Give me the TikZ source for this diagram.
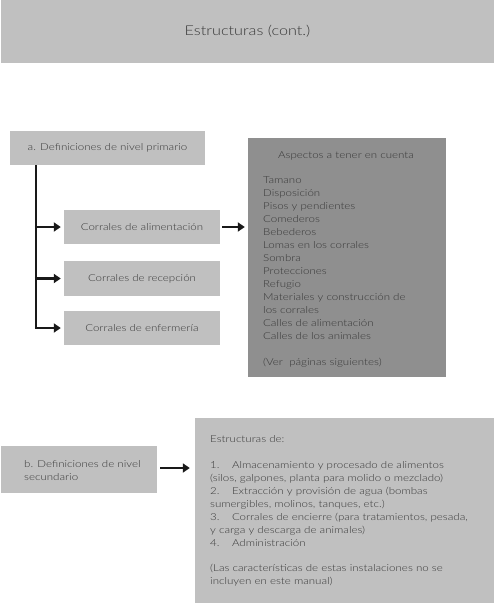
\documentclass[tikz,border=0pt]{standalone}
\usepackage{fontspec}
\IfFontExistsTF{Lato Light}{\setmainfont{Lato Light}[FakeStretch=1.2]}{\setmainfont{Lato}[FakeStretch=1.2]}
\usetikzlibrary{arrows.meta,calc}
\definecolor{boxgray}{HTML}{C0C0C0}
\definecolor{darkbox}{HTML}{8F8F8F}
\definecolor{txt}{HTML}{383838}
\begin{document}
\begin{tikzpicture}[x=1pt,y=-1pt,
  font=\fontsize{9.6}{13}\selectfont, text=txt,
  box/.style={fill=boxgray, draw=none, inner sep=0pt},
  dbox/.style={fill=darkbox, draw=none, inner sep=0pt},
  txtblock/.style={inner sep=0pt, align=left, anchor=north west},
  arr/.style={line width=2.4pt, draw=black!90, -{Triangle[length=7pt,width=9pt]}},
  trunkline/.style={line width=2pt, draw=black!90}]
\useasboundingbox (0,0) rectangle (496,607);
\fill[white] (0,0) rectangle (496,607);

% title banner
\node[box, minimum width=493pt, minimum height=63pt, font=\fontsize{13.5}{15}\selectfont] (title) at (247.5,31.5) {Estructuras (cont.)};

% level a
\node[box, minimum width=195pt, minimum height=34pt] (a) at (107.5,148) {a. Definiciones de nivel primario};
\node[box, minimum width=156pt, minimum height=34pt] (ali) at (142,227) {Corrales de alimentación};
\node[box, minimum width=156pt, minimum height=35pt] (rec) at (142,278.5) {Corrales de recepción};
\node[box, minimum width=156pt, minimum height=34pt] (enf) at (142,328) {Corrales de enfermería};

\node[dbox, minimum width=198pt, minimum height=239pt] (asp) at (347,257.5) {};
\node[inner sep=0pt] (asph) at (346,156) {Aspectos a tener en cuenta};
\node[txtblock] (asplist) at (263,177) {Tamano\\Disposición\\Pisos y pendientes\\Comederos\\Bebederos\\Lomas en los corrales\\Sombra\\Protecciones\\Refugio\\Materiales y construcción de\\los corrales\\Calles de alimentación\\Calles de los animales\\[13pt](Ver\ \ páginas siguientes)};

\coordinate (trunk) at ($(a.south west)+(26,0)$);
\draw[trunkline] (trunk) -- (trunk |- enf.west);
\draw[arr] ($(trunk |- ali.west)+(-1,0)$) -- (ali.west) [shorten >=3pt];
\draw[arr] ($(trunk |- rec.west)+(-1,0)$) -- (rec.west) [shorten >=3pt];
\draw[arr] ($(trunk |- enf.west)+(-1,0)$) -- (enf.west) [shorten >=3pt];
\draw[arr, shorten <=2pt, shorten >=3pt] (ali.east) -- (ali.east -| asp.west);

% level b
\node[box, minimum width=156pt, minimum height=47pt] (b) at (79,469.5) {};
\node[txtblock, anchor=west] (btext) at (24,471) {b. Definiciones de nivel\\secundario};
\node[box, minimum width=299pt, minimum height=185pt] (est) at (344.5,510.5) {};
\node[txtblock] (esttext) at (210,435.5) {Estructuras de:\\[13pt]1.\hspace{1.3em}Almacenamiento y procesado de alimentos\\(silos, galpones, planta para molido o mezclado)\\2.\hspace{1.3em}Extracción y provisión de agua (bombas\\sumergibles, molinos, tanques, etc.)\\3.\hspace{1.3em}Corrales de encierre (para tratamientos, pesada,\\y carga y descarga de animales)\\4.\hspace{1.3em}Administración\\[12pt](Las características de estas instalaciones no se\\incluyen en este manual)};
\draw[arr, shorten <=3pt, shorten >=5pt] ($(b.east)+(0,-1.5)$) -- ($(b.east -| est.west)+(0,-1.5)$);
\end{tikzpicture}
\end{document}
